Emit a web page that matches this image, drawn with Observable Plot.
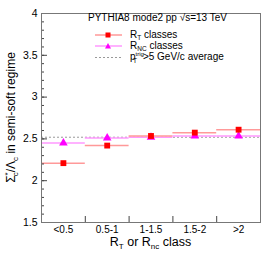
<!DOCTYPE html>
<html><head><meta charset="utf-8">
<script src="https://cdn.jsdelivr.net/npm/d3@7"></script>
<script src="https://cdn.jsdelivr.net/npm/@observablehq/plot@0.6"></script>
<style>body{margin:0;background:#fff}svg{font-family:"Liberation Sans",Arial,sans-serif}</style>
</head><body><div id="chart"></div>
<script>
const categories = ["<0.5", "0.5-1", "1-1.5", "1.5-2", ">2"];
const rtValues = [2.21, 2.42, 2.535, 2.575, 2.61];
const rtErrors = [0.02, 0.015, 0.012, 0.015, 0.015];
const rncValues = [2.45, 2.51, 2.52, 2.535, 2.535];
const rncErrors = [0.012, 0.01, 0.008, 0.01, 0.012];
const averageValue = 2.52;
const yMajorTicks = [1.5, 2, 2.5, 3, 3.5, 4];
const yMinorTicks = d3.range(15, 41).map(v => v / 10);
const binEdges = [1, 2, 3, 4];

const W = 274, H = 261, ML = 41, MR = 14, MT = 13, MB = 39;
const PW = W - ML - MR, PH = H - MT - MB;

const data = categories.map((c, i) => ({
  i, cat: c, lo: i, hi: i + 1, mid: i + 0.5,
  rt: rtValues[i], rtErr: rtErrors[i],
  rnc: rncValues[i], rncErr: rncErrors[i]
}));

const red = "#ff0000", pinkLine = "#ff9999", mag = "#ff00ff", magLine = "#ff99ff";

const plot = Plot.plot({
  width: W, height: H,
  marginLeft: ML, marginRight: MR, marginTop: MT, marginBottom: MB,
  style: {fontFamily: "'Liberation Sans', Arial, sans-serif", background: "#fff", color: "#000"},
  x: {domain: [0, 5]},
  y: {domain: [1.5, 4]},
  marks: [
    Plot.ruleY([averageValue], {stroke: "#999", strokeWidth: 1, strokeDasharray: "2,2"}),
    Plot.ruleY(data, {y: "rnc", x1: "lo", x2: "hi", stroke: magLine, strokeWidth: 1.5}),
    Plot.ruleX(data, {x: "mid", y1: d => d.rnc - d.rncErr, y2: d => d.rnc + d.rncErr, stroke: magLine, strokeWidth: 1.5}),
    Plot.ruleY(data, {y: "rt", x1: "lo", x2: "hi", stroke: pinkLine, strokeWidth: 1.5}),
    Plot.ruleX(data, {x: "mid", y1: d => d.rt - d.rtErr, y2: d => d.rt + d.rtErr, stroke: pinkLine, strokeWidth: 1.5}),
    Plot.dot(data, {x: "mid", y: "rnc", symbol: "triangle", fill: mag, r: 3.2}),
    Plot.dot(data, {x: "mid", y: "rt", symbol: "square", fill: red, r: 3.3}),
    Plot.tickY(yMajorTicks, {y: d => d, insetRight: PW - 6, stroke: "#444"}),
    Plot.tickY(yMinorTicks, {y: d => d, insetRight: PW - 3, stroke: "#444"}),
    Plot.tickX(binEdges, {x: d => d, insetTop: PH - 6, stroke: "#444"}),
    Plot.axisY({ticks: yMajorTicks, tickSize: 0, tickPadding: 4, fontSize: 10.5, label: null, tickFormat: d => String(d)}),
    Plot.axisX({ticks: data.map(d => d.mid), tickSize: 0, tickPadding: 3, fontSize: 10, label: null, tickFormat: v => categories[Math.round(v - 0.5)]}),
    Plot.frame({stroke: "#777", strokeWidth: 1})
  ]
});
document.getElementById("chart").append(plot);

const svg = d3.select(plot);
// axis labels
const ylab = svg.append("text")
  .attr("transform", `translate(15,${MT + PH / 2}) rotate(-90)`)
  .attr("text-anchor", "middle").attr("font-size", 12).attr("fill", "#000");
ylab.append("tspan").text("Σ");
ylab.append("tspan").attr("font-size", 8).attr("dy", -5).text("*");
ylab.append("tspan").attr("font-size", 8).attr("dx", -4).attr("dy", 8).text("c");
ylab.append("tspan").attr("dy", -3).text("/Λ");
ylab.append("tspan").attr("font-size", 8).attr("dy", 3).text("c");
ylab.append("tspan").attr("dy", -3).text(" in semi-soft regime");

const xlab = svg.append("text")
  .attr("x", ML + PW / 2).attr("y", 246)
  .attr("text-anchor", "middle").attr("font-size", 12.5).attr("fill", "#000");
xlab.append("tspan").text("R");
xlab.append("tspan").attr("font-size", 8).attr("dy", 3).text("T");
xlab.append("tspan").attr("dy", -3).text(" or R");
xlab.append("tspan").attr("font-size", 8).attr("dy", 3).text("nc");
xlab.append("tspan").attr("dy", -3).text(" class");

// legend
const lg = svg.append("g").attr("font-size", 10).attr("fill", "#000").attr("text-anchor", "start");
lg.append("text").attr("x", 88).attr("y", 21).attr("text-anchor", "start").text("PYTHIA8 mode2 pp √s=13 TeV");
// RT row
lg.append("line").attr("x1", 95).attr("x2", 122).attr("y1", 35).attr("y2", 35).attr("stroke", pinkLine).attr("stroke-width", 1.5);
lg.append("rect").attr("x", 105.5).attr("y", 32.5).attr("width", 5).attr("height", 5).attr("fill", red);
const t1 = lg.append("text").attr("x", 130).attr("y", 38).attr("text-anchor", "start");
t1.append("tspan").text("R");
t1.append("tspan").attr("font-size", 6.5).attr("dy", 2).text("T");
t1.append("tspan").attr("dy", -2).text(" classes");
// RNC row
lg.append("line").attr("x1", 95).attr("x2", 122).attr("y1", 46).attr("y2", 46).attr("stroke", magLine).attr("stroke-width", 1.5);
lg.append("path").attr("d", "M108,43L111,48.5L105,48.5Z").attr("fill", mag);
const t2 = lg.append("text").attr("x", 130).attr("y", 49).attr("text-anchor", "start");
t2.append("tspan").text("R");
t2.append("tspan").attr("font-size", 6.5).attr("dy", 2).text("NC");
t2.append("tspan").attr("dy", -2).text(" classes");
// average row
lg.append("line").attr("x1", 95).attr("x2", 122).attr("y1", 57.5).attr("y2", 57.5).attr("stroke", "#999").attr("stroke-dasharray", "2,2");
const t3 = lg.append("text").attr("x", 130).attr("y", 60).attr("text-anchor", "start");
t3.append("tspan").text("p");
t3.append("tspan").attr("font-size", 6).attr("dy", -4).text("trig");
t3.append("tspan").attr("font-size", 6.5).attr("dx", -11).attr("dy", 6.5).text("T");
t3.append("tspan").attr("dx", 6).attr("dy", -2.5).text(">5 GeV/c average");
</script></body></html>
